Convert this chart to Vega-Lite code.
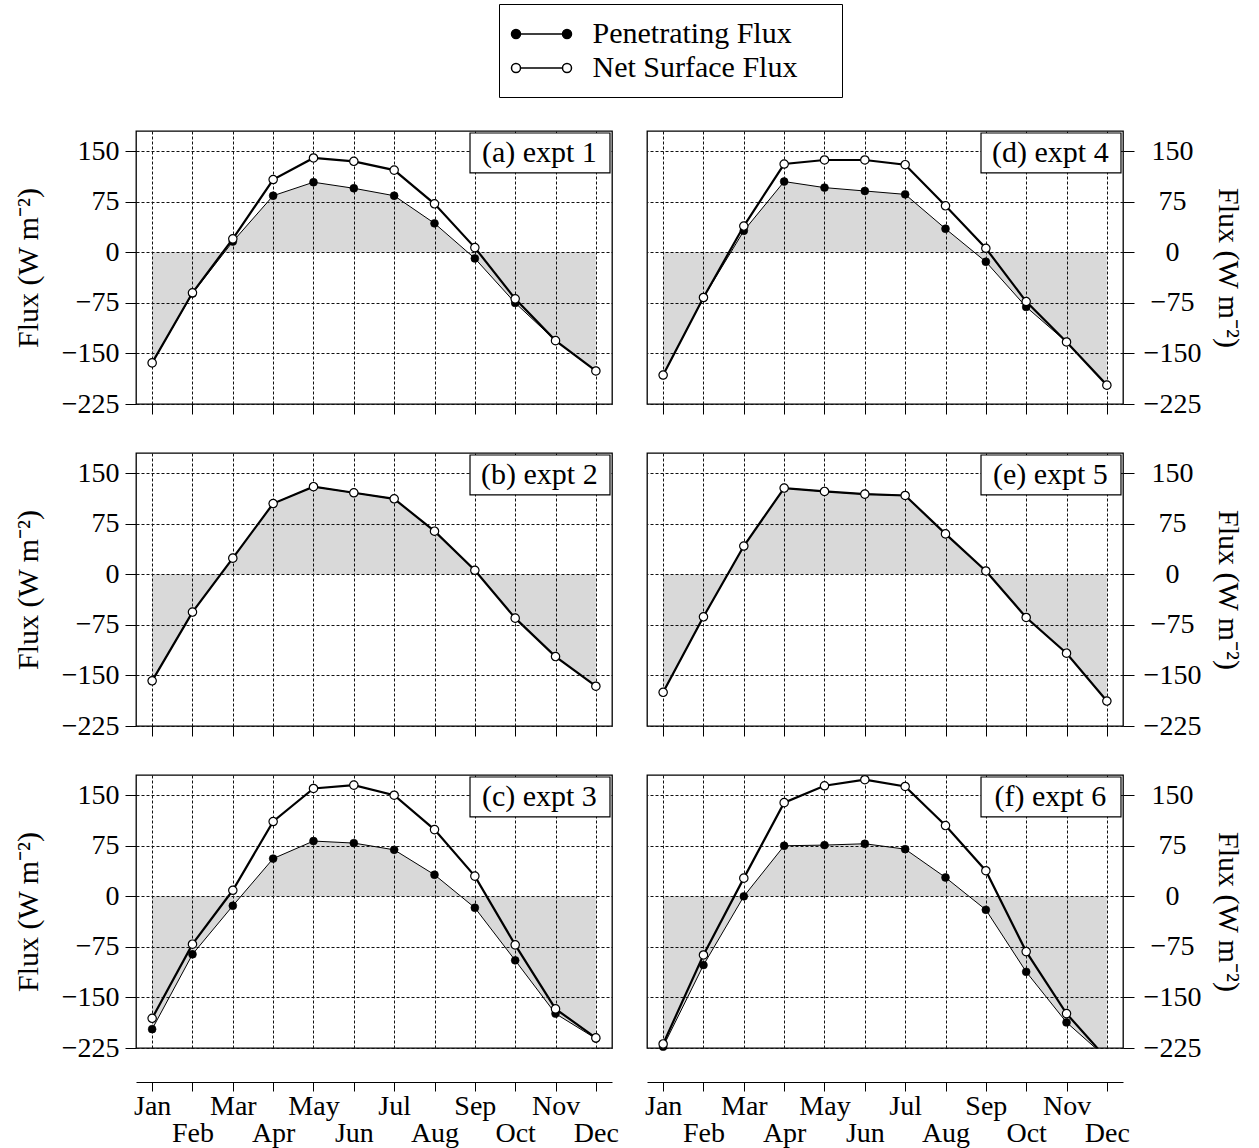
{
  "$schema": "https://vega.github.io/schema/vega-lite/v6.json",
  "background": "white",
  "padding": {"left": 12, "top": 3, "right": 5, "bottom": 5},
  "config": {
    "font": "Liberation Serif",
    "view": {"stroke": "black", "strokeWidth": 1.3},
    "axis": {"labelFont": "Liberation Serif", "titleFont": "Liberation Serif", "labelFontSize": 28, "titleFontSize": 30, "titleFontWeight": "normal", "labelColor": "black", "titleColor": "black", "tickColor": "black", "tickWidth": 1, "domainColor": "black", "gridColor": "#111111", "gridDash": [3, 2], "gridWidth": 1, "gridOpacity": 1, "labelFlush": false, "labelOverlap": false},
    "legend": {"orient": "none", "legendX": 363, "legendY": -127, "strokeColor": "black", "strokeWidth": 1, "fillColor": "white", "padding": 14, "labelFont": "Liberation Serif", "labelFontSize": 30, "labelColor": "black", "labelLimit": 600, "symbolSize": 900, "symbolStrokeColor": "black", "symbolStrokeWidth": 1.5, "symbolOpacity": 1, "symbolOffset": 12.5, "labelOffset": 35, "rowPadding": 3}
  },
  "datasets": {
    "flux": [
      {"p": "a", "m": 1, "pen": -164, "net": -164}, {"p": "a", "m": 2, "pen": -61, "net": -60}, {"p": "a", "m": 3, "pen": 16, "net": 20}, {"p": "a", "m": 4, "pen": 84, "net": 108}, {"p": "a", "m": 5, "pen": 104, "net": 140}, {"p": "a", "m": 6, "pen": 95, "net": 135}, {"p": "a", "m": 7, "pen": 84, "net": 122}, {"p": "a", "m": 8, "pen": 43, "net": 72}, {"p": "a", "m": 9, "pen": -9, "net": 7}, {"p": "a", "m": 10, "pen": -75, "net": -69}, {"p": "a", "m": 11, "pen": -131, "net": -131}, {"p": "a", "m": 12, "pen": -176, "net": -176},
      {"p": "b", "m": 1, "pen": -158, "net": -158}, {"p": "b", "m": 2, "pen": -56, "net": -56}, {"p": "b", "m": 3, "pen": 24, "net": 24}, {"p": "b", "m": 4, "pen": 105, "net": 105}, {"p": "b", "m": 5, "pen": 130, "net": 130}, {"p": "b", "m": 6, "pen": 121, "net": 121}, {"p": "b", "m": 7, "pen": 112, "net": 112}, {"p": "b", "m": 8, "pen": 64, "net": 64}, {"p": "b", "m": 9, "pen": 6, "net": 6}, {"p": "b", "m": 10, "pen": -65, "net": -65}, {"p": "b", "m": 11, "pen": -122, "net": -122}, {"p": "b", "m": 12, "pen": -166, "net": -166},
      {"p": "c", "m": 1, "pen": -197, "net": -181}, {"p": "c", "m": 2, "pen": -86, "net": -71}, {"p": "c", "m": 3, "pen": -14, "net": 9}, {"p": "c", "m": 4, "pen": 56, "net": 111}, {"p": "c", "m": 5, "pen": 82, "net": 160}, {"p": "c", "m": 6, "pen": 79, "net": 165}, {"p": "c", "m": 7, "pen": 69, "net": 150}, {"p": "c", "m": 8, "pen": 32, "net": 99}, {"p": "c", "m": 9, "pen": -17, "net": 30}, {"p": "c", "m": 10, "pen": -95, "net": -72}, {"p": "c", "m": 11, "pen": -174, "net": -167}, {"p": "c", "m": 12, "pen": -211, "net": -210},
      {"p": "d", "m": 1, "pen": -182, "net": -182}, {"p": "d", "m": 2, "pen": -67, "net": -67}, {"p": "d", "m": 3, "pen": 32, "net": 39}, {"p": "d", "m": 4, "pen": 105, "net": 131}, {"p": "d", "m": 5, "pen": 96, "net": 137}, {"p": "d", "m": 6, "pen": 91, "net": 137}, {"p": "d", "m": 7, "pen": 86, "net": 130}, {"p": "d", "m": 8, "pen": 35, "net": 69}, {"p": "d", "m": 9, "pen": -14, "net": 6}, {"p": "d", "m": 10, "pen": -81, "net": -73}, {"p": "d", "m": 11, "pen": -133, "net": -133}, {"p": "d", "m": 12, "pen": -197, "net": -197},
      {"p": "e", "m": 1, "pen": -175, "net": -175}, {"p": "e", "m": 2, "pen": -63, "net": -63}, {"p": "e", "m": 3, "pen": 42, "net": 42}, {"p": "e", "m": 4, "pen": 128, "net": 128}, {"p": "e", "m": 5, "pen": 123, "net": 123}, {"p": "e", "m": 6, "pen": 119, "net": 119}, {"p": "e", "m": 7, "pen": 117, "net": 117}, {"p": "e", "m": 8, "pen": 60, "net": 60}, {"p": "e", "m": 9, "pen": 5, "net": 5}, {"p": "e", "m": 10, "pen": -64, "net": -64}, {"p": "e", "m": 11, "pen": -117, "net": -117}, {"p": "e", "m": 12, "pen": -188, "net": -188},
      {"p": "f", "m": 1, "pen": -223, "net": -219}, {"p": "f", "m": 2, "pen": -102, "net": -87}, {"p": "f", "m": 3, "pen": 0, "net": 27}, {"p": "f", "m": 4, "pen": 75, "net": 139}, {"p": "f", "m": 5, "pen": 76, "net": 164}, {"p": "f", "m": 6, "pen": 78, "net": 173}, {"p": "f", "m": 7, "pen": 70, "net": 163}, {"p": "f", "m": 8, "pen": 28, "net": 105}, {"p": "f", "m": 9, "pen": -20, "net": 38}, {"p": "f", "m": 10, "pen": -112, "net": -82}, {"p": "f", "m": 11, "pen": -187, "net": -174}, {"p": "f", "m": 12, "pen": -240, "net": -241}
    ]
  },
  "data": {"name": "flux"},
  "columns": 2,
  "bounds": "flush",
  "spacing": {"row": 49, "column": 35},
  "resolve": {"scale": {"fill": "shared"}, "legend": {"fill": "shared"}},
  "concat": [
    {
      "width": 476, "height": 273,
      "transform": [{"filter": "datum.p === 'a'"}],
      "encoding": {"x": {"field": "m", "type": "quantitative", "scale": {"domain": [0.6, 12.4], "nice": false, "zero": false}, "axis": {"values": [1,2,3,4,5,6,7,8,9,10,11,12], "grid": true, "labels": false, "domain": false, "tickSize": 10, "title": null}}},
      "layer": [
        {"mark": {"type": "area", "fill": "black", "fillOpacity": 0.15, "clip": true}, "encoding": {"y": {"field": "pen", "type": "quantitative", "scale": {"domain": [-225, 180], "nice": false, "zero": false}, "axis": {"orient": "left", "values": [-225,-150,-75,0,75,150], "grid": true, "domain": false, "tickSize": 11, "labelPadding": 6, "titlePadding": 18, "title": "Flux (W m⁻²)"}}, "y2": {"datum": 0}}},
        {"mark": {"type": "line", "stroke": "black", "strokeWidth": 1, "clip": true}, "encoding": {"y": {"field": "pen", "type": "quantitative", "title": "Flux (W m⁻²)"}}},
        {"mark": {"type": "line", "stroke": "black", "strokeWidth": 2.2, "clip": true}, "encoding": {"y": {"field": "net", "type": "quantitative", "title": "Flux (W m⁻²)"}}},
        {"transform": [{"filter": "datum.pen >= -225"}], "mark": {"type": "point", "filled": true, "size": 62, "stroke": "black", "strokeWidth": 0.6, "opacity": 1}, "encoding": {"y": {"field": "pen", "type": "quantitative", "title": "Flux (W m⁻²)"}, "fill": {"datum": "Penetrating Flux", "type": "nominal", "title": null, "scale": {"domain": ["Penetrating Flux", "Net Surface Flux"], "range": ["black", "white"]}, "legend": {"symbolType": "M-1.4,0L1.4,0M-2,0A0.3,0.3,0,1,0,-1.4,0A0.3,0.3,0,1,0,-2,0ZM1.4,0A0.3,0.3,0,1,0,2,0A0.3,0.3,0,1,0,1.4,0Z", "labelExpr": "datum.label + '\u00a0\u00a0\u00a0\u00a0\u200b'"}}}},
        {"transform": [{"filter": "datum.net >= -225"}], "mark": {"type": "point", "filled": true, "size": 70, "stroke": "black", "strokeWidth": 1.2, "opacity": 1}, "encoding": {"y": {"field": "net", "type": "quantitative", "title": "Flux (W m⁻²)"}, "fill": {"datum": "Net Surface Flux", "type": "nominal", "title": null, "scale": {"domain": ["Penetrating Flux", "Net Surface Flux"], "range": ["black", "white"]}, "legend": {"symbolType": "M-1.4,0L1.4,0M-2,0A0.3,0.3,0,1,0,-1.4,0A0.3,0.3,0,1,0,-2,0ZM1.4,0A0.3,0.3,0,1,0,2,0A0.3,0.3,0,1,0,1.4,0Z", "labelExpr": "datum.label + '\u00a0\u00a0\u00a0\u00a0\u200b'"}}}},
        {"transform": [{"filter": "datum.m === 1"}], "mark": {"type": "rect", "fill": "white", "stroke": "black", "strokeWidth": 1.2}, "encoding": {"x": {"datum": 8.88}, "x2": {"datum": 12.35}, "y": {"datum": 177}, "y2": {"datum": 118}}},
        {"transform": [{"filter": "datum.m === 1"}], "mark": {"type": "text", "font": "Liberation Serif", "fontSize": 30, "align": "center", "baseline": "middle", "color": "black"}, "encoding": {"x": {"datum": 10.6}, "y": {"datum": 147.5}, "text": {"value": "(a) expt 1"}}}
      ]
    },
    {
      "width": 476, "height": 273,
      "transform": [{"filter": "datum.p === 'd'"}],
      "encoding": {"x": {"field": "m", "type": "quantitative", "scale": {"domain": [0.6, 12.4], "nice": false, "zero": false}, "axis": {"values": [1,2,3,4,5,6,7,8,9,10,11,12], "grid": true, "labels": false, "domain": false, "tickSize": 10, "title": null}}},
      "layer": [
        {"mark": {"type": "area", "fill": "black", "fillOpacity": 0.15, "clip": true}, "encoding": {"y": {"field": "pen", "type": "quantitative", "scale": {"domain": [-225, 180], "nice": false, "zero": false}, "axis": {"orient": "right", "values": [-225,-150,-75,0,75,150], "grid": true, "domain": false, "tickSize": 11, "labelAlign": "center", "labelPadding": 38, "titlePadding": 12, "title": "Flux (W m⁻²)"}}, "y2": {"datum": 0}}},
        {"mark": {"type": "line", "stroke": "black", "strokeWidth": 1, "clip": true}, "encoding": {"y": {"field": "pen", "type": "quantitative", "title": "Flux (W m⁻²)"}}},
        {"mark": {"type": "line", "stroke": "black", "strokeWidth": 2.2, "clip": true}, "encoding": {"y": {"field": "net", "type": "quantitative", "title": "Flux (W m⁻²)"}}},
        {"transform": [{"filter": "datum.pen >= -225"}], "mark": {"type": "point", "filled": true, "size": 62, "stroke": "black", "strokeWidth": 0.6, "opacity": 1}, "encoding": {"y": {"field": "pen", "type": "quantitative", "title": "Flux (W m⁻²)"}, "fill": {"datum": "Penetrating Flux", "type": "nominal", "title": null, "scale": {"domain": ["Penetrating Flux", "Net Surface Flux"], "range": ["black", "white"]}, "legend": {"symbolType": "M-1.4,0L1.4,0M-2,0A0.3,0.3,0,1,0,-1.4,0A0.3,0.3,0,1,0,-2,0ZM1.4,0A0.3,0.3,0,1,0,2,0A0.3,0.3,0,1,0,1.4,0Z", "labelExpr": "datum.label + '\u00a0\u00a0\u00a0\u00a0\u200b'"}}}},
        {"transform": [{"filter": "datum.net >= -225"}], "mark": {"type": "point", "filled": true, "size": 70, "stroke": "black", "strokeWidth": 1.2, "opacity": 1}, "encoding": {"y": {"field": "net", "type": "quantitative", "title": "Flux (W m⁻²)"}, "fill": {"datum": "Net Surface Flux", "type": "nominal", "title": null, "scale": {"domain": ["Penetrating Flux", "Net Surface Flux"], "range": ["black", "white"]}, "legend": {"symbolType": "M-1.4,0L1.4,0M-2,0A0.3,0.3,0,1,0,-1.4,0A0.3,0.3,0,1,0,-2,0ZM1.4,0A0.3,0.3,0,1,0,2,0A0.3,0.3,0,1,0,1.4,0Z", "labelExpr": "datum.label + '\u00a0\u00a0\u00a0\u00a0\u200b'"}}}},
        {"transform": [{"filter": "datum.m === 1"}], "mark": {"type": "rect", "fill": "white", "stroke": "black", "strokeWidth": 1.2}, "encoding": {"x": {"datum": 8.88}, "x2": {"datum": 12.35}, "y": {"datum": 177}, "y2": {"datum": 118}}},
        {"transform": [{"filter": "datum.m === 1"}], "mark": {"type": "text", "font": "Liberation Serif", "fontSize": 30, "align": "center", "baseline": "middle", "color": "black"}, "encoding": {"x": {"datum": 10.6}, "y": {"datum": 147.5}, "text": {"value": "(d) expt 4"}}}
      ]
    },
    {
      "width": 476, "height": 273,
      "transform": [{"filter": "datum.p === 'b'"}],
      "encoding": {"x": {"field": "m", "type": "quantitative", "scale": {"domain": [0.6, 12.4], "nice": false, "zero": false}, "axis": {"values": [1,2,3,4,5,6,7,8,9,10,11,12], "grid": true, "labels": false, "domain": false, "tickSize": 10, "title": null}}},
      "layer": [
        {"mark": {"type": "area", "fill": "black", "fillOpacity": 0.15, "clip": true}, "encoding": {"y": {"field": "pen", "type": "quantitative", "scale": {"domain": [-225, 180], "nice": false, "zero": false}, "axis": {"orient": "left", "values": [-225,-150,-75,0,75,150], "grid": true, "domain": false, "tickSize": 11, "labelPadding": 6, "titlePadding": 18, "title": "Flux (W m⁻²)"}}, "y2": {"datum": 0}}},
        {"mark": {"type": "line", "stroke": "black", "strokeWidth": 1, "clip": true}, "encoding": {"y": {"field": "pen", "type": "quantitative", "title": "Flux (W m⁻²)"}}},
        {"mark": {"type": "line", "stroke": "black", "strokeWidth": 2.2, "clip": true}, "encoding": {"y": {"field": "net", "type": "quantitative", "title": "Flux (W m⁻²)"}}},
        {"transform": [{"filter": "datum.pen >= -225"}], "mark": {"type": "point", "filled": true, "size": 62, "stroke": "black", "strokeWidth": 0.6, "opacity": 1}, "encoding": {"y": {"field": "pen", "type": "quantitative", "title": "Flux (W m⁻²)"}, "fill": {"datum": "Penetrating Flux", "type": "nominal", "title": null, "scale": {"domain": ["Penetrating Flux", "Net Surface Flux"], "range": ["black", "white"]}, "legend": {"symbolType": "M-1.4,0L1.4,0M-2,0A0.3,0.3,0,1,0,-1.4,0A0.3,0.3,0,1,0,-2,0ZM1.4,0A0.3,0.3,0,1,0,2,0A0.3,0.3,0,1,0,1.4,0Z", "labelExpr": "datum.label + '\u00a0\u00a0\u00a0\u00a0\u200b'"}}}},
        {"transform": [{"filter": "datum.net >= -225"}], "mark": {"type": "point", "filled": true, "size": 70, "stroke": "black", "strokeWidth": 1.2, "opacity": 1}, "encoding": {"y": {"field": "net", "type": "quantitative", "title": "Flux (W m⁻²)"}, "fill": {"datum": "Net Surface Flux", "type": "nominal", "title": null, "scale": {"domain": ["Penetrating Flux", "Net Surface Flux"], "range": ["black", "white"]}, "legend": {"symbolType": "M-1.4,0L1.4,0M-2,0A0.3,0.3,0,1,0,-1.4,0A0.3,0.3,0,1,0,-2,0ZM1.4,0A0.3,0.3,0,1,0,2,0A0.3,0.3,0,1,0,1.4,0Z", "labelExpr": "datum.label + '\u00a0\u00a0\u00a0\u00a0\u200b'"}}}},
        {"transform": [{"filter": "datum.m === 1"}], "mark": {"type": "rect", "fill": "white", "stroke": "black", "strokeWidth": 1.2}, "encoding": {"x": {"datum": 8.88}, "x2": {"datum": 12.35}, "y": {"datum": 177}, "y2": {"datum": 118}}},
        {"transform": [{"filter": "datum.m === 1"}], "mark": {"type": "text", "font": "Liberation Serif", "fontSize": 30, "align": "center", "baseline": "middle", "color": "black"}, "encoding": {"x": {"datum": 10.6}, "y": {"datum": 147.5}, "text": {"value": "(b) expt 2"}}}
      ]
    },
    {
      "width": 476, "height": 273,
      "transform": [{"filter": "datum.p === 'e'"}],
      "encoding": {"x": {"field": "m", "type": "quantitative", "scale": {"domain": [0.6, 12.4], "nice": false, "zero": false}, "axis": {"values": [1,2,3,4,5,6,7,8,9,10,11,12], "grid": true, "labels": false, "domain": false, "tickSize": 10, "title": null}}},
      "layer": [
        {"mark": {"type": "area", "fill": "black", "fillOpacity": 0.15, "clip": true}, "encoding": {"y": {"field": "pen", "type": "quantitative", "scale": {"domain": [-225, 180], "nice": false, "zero": false}, "axis": {"orient": "right", "values": [-225,-150,-75,0,75,150], "grid": true, "domain": false, "tickSize": 11, "labelAlign": "center", "labelPadding": 38, "titlePadding": 12, "title": "Flux (W m⁻²)"}}, "y2": {"datum": 0}}},
        {"mark": {"type": "line", "stroke": "black", "strokeWidth": 1, "clip": true}, "encoding": {"y": {"field": "pen", "type": "quantitative", "title": "Flux (W m⁻²)"}}},
        {"mark": {"type": "line", "stroke": "black", "strokeWidth": 2.2, "clip": true}, "encoding": {"y": {"field": "net", "type": "quantitative", "title": "Flux (W m⁻²)"}}},
        {"transform": [{"filter": "datum.pen >= -225"}], "mark": {"type": "point", "filled": true, "size": 62, "stroke": "black", "strokeWidth": 0.6, "opacity": 1}, "encoding": {"y": {"field": "pen", "type": "quantitative", "title": "Flux (W m⁻²)"}, "fill": {"datum": "Penetrating Flux", "type": "nominal", "title": null, "scale": {"domain": ["Penetrating Flux", "Net Surface Flux"], "range": ["black", "white"]}, "legend": {"symbolType": "M-1.4,0L1.4,0M-2,0A0.3,0.3,0,1,0,-1.4,0A0.3,0.3,0,1,0,-2,0ZM1.4,0A0.3,0.3,0,1,0,2,0A0.3,0.3,0,1,0,1.4,0Z", "labelExpr": "datum.label + '\u00a0\u00a0\u00a0\u00a0\u200b'"}}}},
        {"transform": [{"filter": "datum.net >= -225"}], "mark": {"type": "point", "filled": true, "size": 70, "stroke": "black", "strokeWidth": 1.2, "opacity": 1}, "encoding": {"y": {"field": "net", "type": "quantitative", "title": "Flux (W m⁻²)"}, "fill": {"datum": "Net Surface Flux", "type": "nominal", "title": null, "scale": {"domain": ["Penetrating Flux", "Net Surface Flux"], "range": ["black", "white"]}, "legend": {"symbolType": "M-1.4,0L1.4,0M-2,0A0.3,0.3,0,1,0,-1.4,0A0.3,0.3,0,1,0,-2,0ZM1.4,0A0.3,0.3,0,1,0,2,0A0.3,0.3,0,1,0,1.4,0Z", "labelExpr": "datum.label + '\u00a0\u00a0\u00a0\u00a0\u200b'"}}}},
        {"transform": [{"filter": "datum.m === 1"}], "mark": {"type": "rect", "fill": "white", "stroke": "black", "strokeWidth": 1.2}, "encoding": {"x": {"datum": 8.88}, "x2": {"datum": 12.35}, "y": {"datum": 177}, "y2": {"datum": 118}}},
        {"transform": [{"filter": "datum.m === 1"}], "mark": {"type": "text", "font": "Liberation Serif", "fontSize": 30, "align": "center", "baseline": "middle", "color": "black"}, "encoding": {"x": {"datum": 10.6}, "y": {"datum": 147.5}, "text": {"value": "(e) expt 5"}}}
      ]
    },
    {
      "width": 476, "height": 273,
      "transform": [{"filter": "datum.p === 'c'"}],
      "encoding": {"x": {"field": "m", "type": "quantitative", "scale": {"domain": [0.6, 12.4], "nice": false, "zero": false}, "axis": {"values": [1,2,3,4,5,6,7,8,9,10,11,12], "grid": true, "labels": true, "labelExpr": "datum.value % 2 === 0 ? ['', ['Jan','Feb','Mar','Apr','May','Jun','Jul','Aug','Sep','Oct','Nov','Dec'][datum.value - 1]] : ['Jan','Feb','Mar','Apr','May','Jun','Jul','Aug','Sep','Oct','Nov','Dec'][datum.value - 1]", "labelLineHeight": 27, "labelBaseline": "top", "labelPadding": 1, "domain": true, "domainWidth": 1, "offset": 34, "tickSize": 9, "title": null, "encode": {"ticks": {"y": {"value": -9}, "y2": {"value": 9}}}}}},
      "layer": [
        {"mark": {"type": "area", "fill": "black", "fillOpacity": 0.15, "clip": true}, "encoding": {"y": {"field": "pen", "type": "quantitative", "scale": {"domain": [-225, 180], "nice": false, "zero": false}, "axis": {"orient": "left", "values": [-225,-150,-75,0,75,150], "grid": true, "domain": false, "tickSize": 11, "labelPadding": 6, "titlePadding": 18, "title": "Flux (W m⁻²)"}}, "y2": {"datum": 0}}},
        {"mark": {"type": "line", "stroke": "black", "strokeWidth": 1, "clip": true}, "encoding": {"y": {"field": "pen", "type": "quantitative", "title": "Flux (W m⁻²)"}}},
        {"mark": {"type": "line", "stroke": "black", "strokeWidth": 2.2, "clip": true}, "encoding": {"y": {"field": "net", "type": "quantitative", "title": "Flux (W m⁻²)"}}},
        {"transform": [{"filter": "datum.pen >= -225"}], "mark": {"type": "point", "filled": true, "size": 62, "stroke": "black", "strokeWidth": 0.6, "opacity": 1}, "encoding": {"y": {"field": "pen", "type": "quantitative", "title": "Flux (W m⁻²)"}, "fill": {"datum": "Penetrating Flux", "type": "nominal", "title": null, "scale": {"domain": ["Penetrating Flux", "Net Surface Flux"], "range": ["black", "white"]}, "legend": {"symbolType": "M-1.4,0L1.4,0M-2,0A0.3,0.3,0,1,0,-1.4,0A0.3,0.3,0,1,0,-2,0ZM1.4,0A0.3,0.3,0,1,0,2,0A0.3,0.3,0,1,0,1.4,0Z", "labelExpr": "datum.label + '\u00a0\u00a0\u00a0\u00a0\u200b'"}}}},
        {"transform": [{"filter": "datum.net >= -225"}], "mark": {"type": "point", "filled": true, "size": 70, "stroke": "black", "strokeWidth": 1.2, "opacity": 1}, "encoding": {"y": {"field": "net", "type": "quantitative", "title": "Flux (W m⁻²)"}, "fill": {"datum": "Net Surface Flux", "type": "nominal", "title": null, "scale": {"domain": ["Penetrating Flux", "Net Surface Flux"], "range": ["black", "white"]}, "legend": {"symbolType": "M-1.4,0L1.4,0M-2,0A0.3,0.3,0,1,0,-1.4,0A0.3,0.3,0,1,0,-2,0ZM1.4,0A0.3,0.3,0,1,0,2,0A0.3,0.3,0,1,0,1.4,0Z", "labelExpr": "datum.label + '\u00a0\u00a0\u00a0\u00a0\u200b'"}}}},
        {"transform": [{"filter": "datum.m === 1"}], "mark": {"type": "rect", "fill": "white", "stroke": "black", "strokeWidth": 1.2}, "encoding": {"x": {"datum": 8.88}, "x2": {"datum": 12.35}, "y": {"datum": 177}, "y2": {"datum": 118}}},
        {"transform": [{"filter": "datum.m === 1"}], "mark": {"type": "text", "font": "Liberation Serif", "fontSize": 30, "align": "center", "baseline": "middle", "color": "black"}, "encoding": {"x": {"datum": 10.6}, "y": {"datum": 147.5}, "text": {"value": "(c) expt 3"}}}
      ]
    },
    {
      "width": 476, "height": 273,
      "transform": [{"filter": "datum.p === 'f'"}],
      "encoding": {"x": {"field": "m", "type": "quantitative", "scale": {"domain": [0.6, 12.4], "nice": false, "zero": false}, "axis": {"values": [1,2,3,4,5,6,7,8,9,10,11,12], "grid": true, "labels": true, "labelExpr": "datum.value % 2 === 0 ? ['', ['Jan','Feb','Mar','Apr','May','Jun','Jul','Aug','Sep','Oct','Nov','Dec'][datum.value - 1]] : ['Jan','Feb','Mar','Apr','May','Jun','Jul','Aug','Sep','Oct','Nov','Dec'][datum.value - 1]", "labelLineHeight": 27, "labelBaseline": "top", "labelPadding": 1, "domain": true, "domainWidth": 1, "offset": 34, "tickSize": 9, "title": null, "encode": {"ticks": {"y": {"value": -9}, "y2": {"value": 9}}}}}},
      "layer": [
        {"mark": {"type": "area", "fill": "black", "fillOpacity": 0.15, "clip": true}, "encoding": {"y": {"field": "pen", "type": "quantitative", "scale": {"domain": [-225, 180], "nice": false, "zero": false}, "axis": {"orient": "right", "values": [-225,-150,-75,0,75,150], "grid": true, "domain": false, "tickSize": 11, "labelAlign": "center", "labelPadding": 38, "titlePadding": 12, "title": "Flux (W m⁻²)"}}, "y2": {"datum": 0}}},
        {"mark": {"type": "line", "stroke": "black", "strokeWidth": 1, "clip": true}, "encoding": {"y": {"field": "pen", "type": "quantitative", "title": "Flux (W m⁻²)"}}},
        {"mark": {"type": "line", "stroke": "black", "strokeWidth": 2.2, "clip": true}, "encoding": {"y": {"field": "net", "type": "quantitative", "title": "Flux (W m⁻²)"}}},
        {"transform": [{"filter": "datum.pen >= -225"}], "mark": {"type": "point", "filled": true, "size": 62, "stroke": "black", "strokeWidth": 0.6, "opacity": 1}, "encoding": {"y": {"field": "pen", "type": "quantitative", "title": "Flux (W m⁻²)"}, "fill": {"datum": "Penetrating Flux", "type": "nominal", "title": null, "scale": {"domain": ["Penetrating Flux", "Net Surface Flux"], "range": ["black", "white"]}, "legend": {"symbolType": "M-1.4,0L1.4,0M-2,0A0.3,0.3,0,1,0,-1.4,0A0.3,0.3,0,1,0,-2,0ZM1.4,0A0.3,0.3,0,1,0,2,0A0.3,0.3,0,1,0,1.4,0Z", "labelExpr": "datum.label + '\u00a0\u00a0\u00a0\u00a0\u200b'"}}}},
        {"transform": [{"filter": "datum.net >= -225"}], "mark": {"type": "point", "filled": true, "size": 70, "stroke": "black", "strokeWidth": 1.2, "opacity": 1}, "encoding": {"y": {"field": "net", "type": "quantitative", "title": "Flux (W m⁻²)"}, "fill": {"datum": "Net Surface Flux", "type": "nominal", "title": null, "scale": {"domain": ["Penetrating Flux", "Net Surface Flux"], "range": ["black", "white"]}, "legend": {"symbolType": "M-1.4,0L1.4,0M-2,0A0.3,0.3,0,1,0,-1.4,0A0.3,0.3,0,1,0,-2,0ZM1.4,0A0.3,0.3,0,1,0,2,0A0.3,0.3,0,1,0,1.4,0Z", "labelExpr": "datum.label + '\u00a0\u00a0\u00a0\u00a0\u200b'"}}}},
        {"transform": [{"filter": "datum.m === 1"}], "mark": {"type": "rect", "fill": "white", "stroke": "black", "strokeWidth": 1.2}, "encoding": {"x": {"datum": 8.88}, "x2": {"datum": 12.35}, "y": {"datum": 177}, "y2": {"datum": 118}}},
        {"transform": [{"filter": "datum.m === 1"}], "mark": {"type": "text", "font": "Liberation Serif", "fontSize": 30, "align": "center", "baseline": "middle", "color": "black"}, "encoding": {"x": {"datum": 10.6}, "y": {"datum": 147.5}, "text": {"value": "(f) expt 6"}}}
      ]
    }
  ]
}
